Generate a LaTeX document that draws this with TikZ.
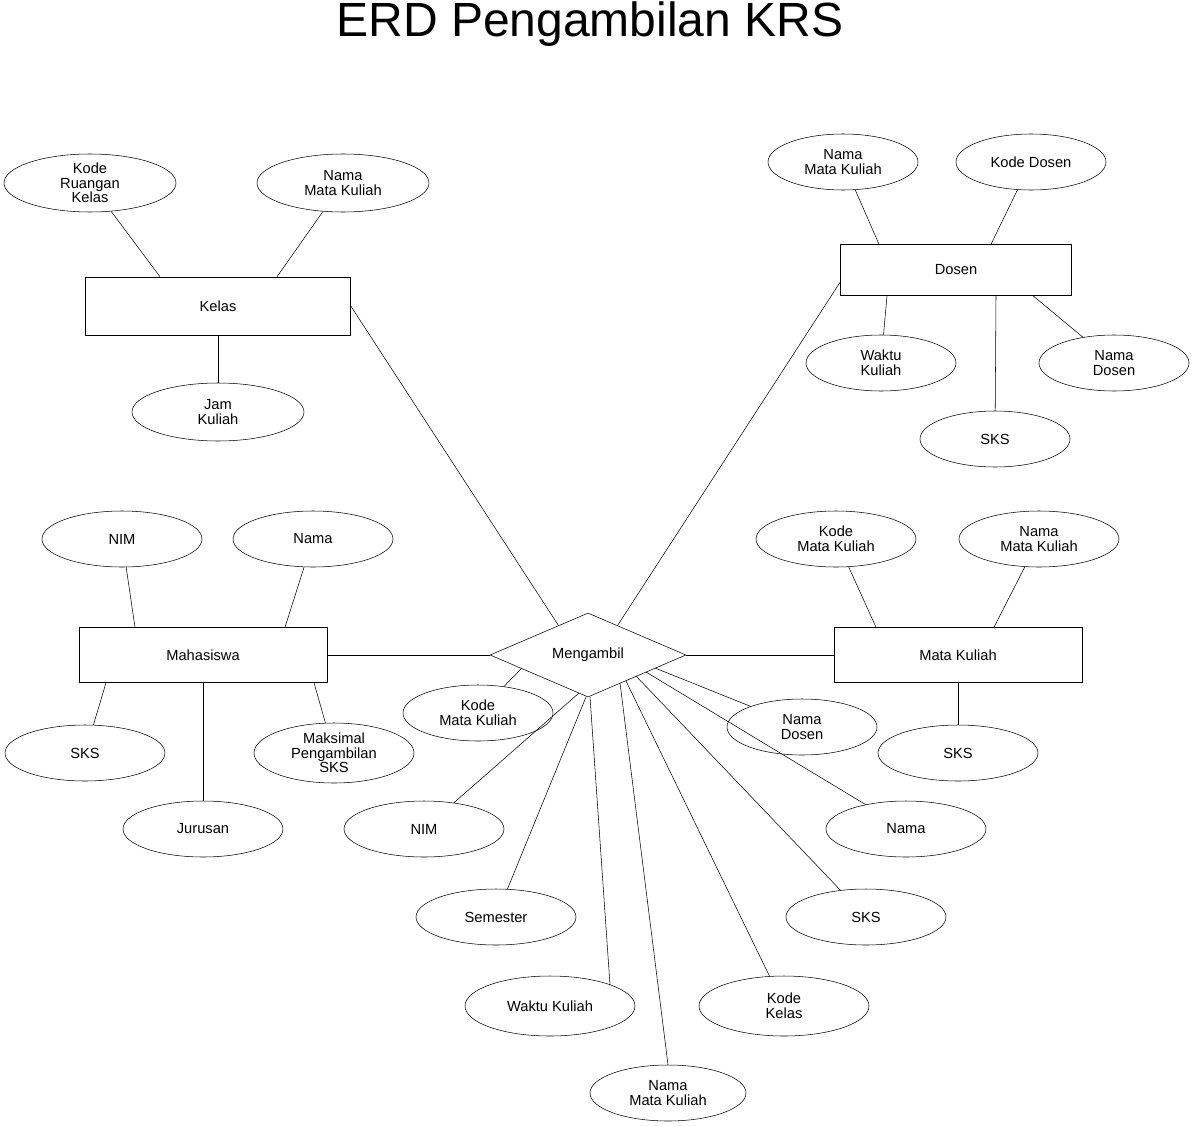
\documentclass[tikz,border=0pt]{standalone}
\usepackage{fontspec}
\setmainfont{Liberation Sans}
\usetikzlibrary{shapes.geometric}
\begin{document}
\begin{tikzpicture}[x=0.75pt,y=-0.75pt,
 ent/.style={draw,rectangle,minimum width=#1*0.75pt,minimum height=55*0.75pt,inner sep=0pt},
 att/.style={draw,ellipse,minimum width=160*0.75pt,minimum height=56*0.75pt,inner sep=0pt,align=center,font=\fontsize{11}{11}\selectfont},
 rel/.style={draw,diamond,minimum width=196*0.75pt,minimum height=84*0.75pt,aspect=2.33,inner sep=0pt},
 every node/.append style={font=\fontsize{11}{11}\selectfont}]
\path[use as bounding box,fill=white] (0,0) rectangle (1195,1127);
\node[font=\fontsize{36}{36}\selectfont,anchor=base] (title) at (590,37) {ERD Pengambilan KRS};
% Kelas
\node[ent=265,minimum height=58*0.75pt] (kel) at (218,306) {Kelas};
\node[att,minimum width=172*0.75pt,minimum height=58*0.75pt] (kr) at (90,183) {Kode\\Ruangan\\Kelas};
\node[att,minimum width=172*0.75pt,minimum height=58*0.75pt] (knm) at (343,183) {Nama\\Mata Kuliah};
\node[att,minimum width=172*0.75pt,minimum height=58*0.75pt] (kjk) at (218,412) {Jam\\Kuliah};
\draw (kel.north -| 160,0) -- (kr);
\draw (kel.north -| 277,0) -- (knm);
\draw (kel) -- (kjk);
% Dosen
\node[ent=231,minimum height=51*0.75pt] (dos) at (956,270) {Dosen};
\node[att,minimum width=150*0.75pt] (dnm) at (843,162) {Nama\\Mata Kuliah};
\node[att,minimum width=150*0.75pt] (dkd) at (1031,162) {Kode Dosen};
\node[att,minimum width=150*0.75pt] (dwk) at (881,363) {Waktu\\Kuliah};
\node[att,minimum width=150*0.75pt] (dnd) at (1114,363) {Nama\\Dosen};
\node[att,minimum width=150*0.75pt] (dsk) at (995,439) {SKS};
\draw (dos.north -| 879,0) -- (dnm);
\draw (dos.north -| 991,0) -- (dkd);
\draw (dos.south -| 887,0) -- (dwk);
\draw (dos.south -| 1033,0) -- (dnd);
\draw (dos.south -| 996,0) -- (dsk);
% Mahasiswa
\node[ent=248] (mhs) at (203,655) {Mahasiswa};
\node[att] (mnim) at (122,539) {NIM};
\node[att] (mnm) at (313,539) {Nama};
\node[att] (msks) at (85,753) {SKS};
\node[att] (mjur) at (203,829) {Jurusan};
\node[att,minimum height=60*0.75pt] (mmax) at (334,753) {Maksimal\\Pengambilan\\SKS};
\draw (mhs.north -| 135,0) -- (mnim);
\draw (mhs.north -| 285,0) -- (mnm);
\draw (mhs.south -| 106,0) -- (msks);
\draw (mhs) -- (mjur);
\draw (mhs.south -| 314,0) -- (mmax);
% Mata Kuliah
\node[ent=248] (mk) at (958,655) {Mata Kuliah};
\node[att] (mkk) at (836,539) {Kode\\Mata Kuliah};
\node[att] (mkn) at (1039,539) {Nama\\Mata Kuliah};
\node[att] (mks) at (958,753) {SKS};
\draw (mk.north -| 876,0) -- (mkk);
\draw (mk.north -| 994,0) -- (mkn);
\draw (mk) -- (mks);
% Mengambil
\node[rel] (d) at (588,655) {};
\node at (588,655) {Mengambil};
\draw (d) -- (mhs);
\draw (d) -- (mk);
\draw (d.135) -- (kel.east);
\draw (d.45) -- (dos.west |- 0,282);
\node[att,minimum width=150*0.75pt] (a1) at (478,713) {Kode\\Mata Kuliah};
\node[att,minimum width=150*0.75pt] (a2) at (802,727) {Nama\\Dosen};
\node[att] (a3) at (424,829) {NIM};
\node[att] (a4) at (906,829) {Nama};
\node[att] (a5) at (496,917) {Semester};
\node[att] (a6) at (866,917) {SKS};
\node[att,minimum width=170*0.75pt,minimum height=60*0.75pt] (a7) at (550,1006) {Waktu Kuliah};
\node[att,minimum width=170*0.75pt,minimum height=60*0.75pt] (a8) at (784,1006) {Kode\\Kelas};
\node[att,minimum width=156*0.75pt] (a9) at (668,1093) {Nama\\Mata Kuliah};
\coordinate (p1) at (522,668);
\coordinate (p2) at (655,668);
\coordinate (p3) at (579,693);
\coordinate (p4) at (646,672);
\coordinate (p5) at (586,697);
\coordinate (p6) at (636,676);
\coordinate (p7) at (590,697);
\coordinate (p8) at (626,681);
\coordinate (p9) at (620,683);
\draw (p1) -- (a1);
\draw (p2) -- (a2);
\draw (p3) -- (a3);
\draw (p4) -- (a4);
\draw (p5) -- (a5);
\draw (p6) -- (a6);
\draw (p7) -- (610,985);
\draw (p8) -- (a8);
\draw (p9) -- (a9.north -| 668,0);
\end{tikzpicture}
\end{document}
